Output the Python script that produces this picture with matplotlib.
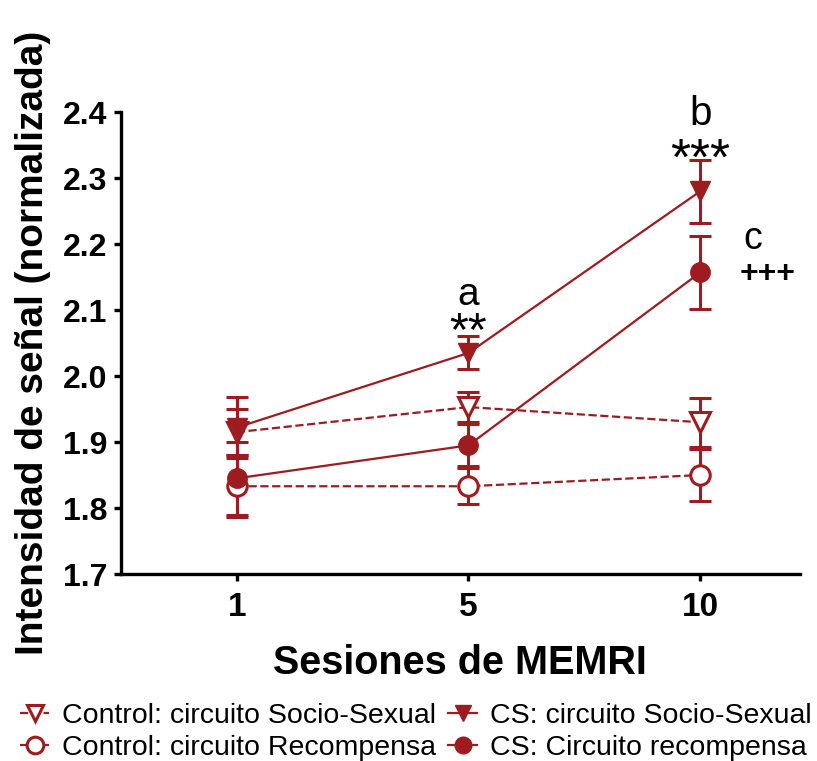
import numpy as np
import matplotlib.pyplot as plt
from matplotlib.lines import Line2D

plt.rcParams['font.family'] = ['Liberation Sans', 'DejaVu Sans']

# ---------- Data ----------
sessions = ["1", "5", "10"]

ctrl_soc = [1.915, 1.953, 1.930]
ctrl_soc_err = [0.035, 0.023, 0.037]

cs_soc = [1.922, 2.035, 2.280]
cs_soc_err = [0.046, 0.025, 0.048]

ctrl_rec = [1.833, 1.833, 1.850]
ctrl_rec_err = [0.047, 0.027, 0.040]

cs_rec = [1.845, 1.895, 2.157]
cs_rec_err = [0.055, 0.032, 0.055]

red = "#9e1b20"

# ---------- Plot ----------
fig = plt.figure(figsize=(8.17, 7.61), dpi=100)
ax = fig.add_axes([0.148, 0.2457, 0.831, 0.607])

x = np.arange(len(sessions))
common = dict(color=red, capsize=8, capthick=2.2, elinewidth=2.2, lw=1.6, ms=14)

ax.errorbar(x, ctrl_soc, yerr=ctrl_soc_err, fmt="v", ls="--", mfc="white",
            mew=2.2, **common)
ax.errorbar(x, ctrl_rec, yerr=ctrl_rec_err, fmt="o", ls="--", mfc="white",
            mew=2.2, **common)
ax.errorbar(x, cs_soc, yerr=cs_soc_err, fmt="v", ls="-", **common)
ax.errorbar(x, cs_rec, yerr=cs_rec_err, fmt="o", ls="-", **common)

# significance marks
ax.text(1, 2.108, "a", ha="center", va="baseline", fontsize=28)
ax.text(1, 2.047, "**", ha="center", va="baseline", fontsize=35)
ax.text(2, 2.381, "b", ha="center", va="baseline", fontsize=29)
ax.text(2, 2.305, "***", ha="center", va="baseline", fontsize=37)
ax.text(2.225, 2.193, "c", ha="center", va="baseline", fontsize=27)
ax.text(2.168, 2.143, "+++", ha="left", va="baseline", fontsize=23,
        fontweight="bold")

ax.set_xlim(-0.5, 2.43)
ax.set_ylim(1.7, 2.4)
ax.set_xticks(x)
ax.set_xticklabels(sessions)
ax.set_yticks(np.arange(1.7, 2.41, 0.1))
ax.set_yticklabels([f"{v:.1f}" for v in np.arange(1.7, 2.41, 0.1)])

for s in ["top", "right"]:
    ax.spines[s].set_visible(False)
for s in ["left", "bottom"]:
    ax.spines[s].set_linewidth(2.4)
ax.tick_params(width=2.4, length=5, pad=5)
ax.tick_params(axis="y", labelsize=23)
ax.tick_params(axis="x", labelsize=24, pad=8)
for lab in ax.get_xticklabels() + ax.get_yticklabels():
    lab.set_fontweight("bold")

ax.set_xlabel("Sesiones de MEMRI", fontsize=28.5, fontweight="bold", labelpad=15)
ax.set_ylabel("Intensidad de señal (normalizada)", fontsize=28, fontweight="bold",
              labelpad=8)

# legend
handles = [
    Line2D([], [], color=red, marker="v", mfc="white", mew=2.2, ms=12, ls="--", lw=1.6),
    Line2D([], [], color=red, marker="o", mfc="white", mew=2.2, ms=12, ls="--", lw=1.6),
    Line2D([], [], color=red, marker="v", ms=12, ls="-", lw=1.6),
    Line2D([], [], color=red, marker="o", ms=12, ls="-", lw=1.6),
]
labels = ["Control: circuito Socio-Sexual", "Control: circuito Recompensa",
          "CS: circuito Socio-Sexual", "CS: Circuito recompensa"]
fig.legend(handles, labels, ncol=2, loc="lower left", bbox_to_anchor=(-0.003, -0.03),
           frameon=False, fontsize=20.5, handlelength=1.0, handletextpad=0.45,
           columnspacing=0.45, labelspacing=0.22, borderpad=0.3)

fig.savefig("out.png", dpi=100)
